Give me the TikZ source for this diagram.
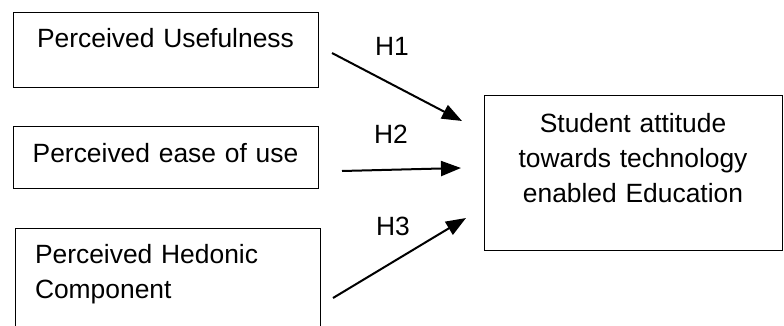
\documentclass[tikz,border=0pt]{standalone}
\usepackage{fontspec}
\setmainfont{Liberation Sans}
\usetikzlibrary{arrows.meta}

\begin{document}
\begin{tikzpicture}
    [x=1pt,y=-1pt,every node/.style={font=\fontsize{26.4}{35}\selectfont,inner sep=0pt},
     construct/.style={draw,line width=1pt,align=center},
     hyp/.style={line width=2pt,-{Triangle[length=20pt,width=15pt]}}]
    \clip (0,0) rectangle (784,326);
    % constructs
    \node[construct,anchor=north,text width=305pt,text height=35pt,text depth=40pt] (1) at (165.5,12) {Perceived Usefulness};
    \node[construct,anchor=north,text width=305pt,text height=36pt,text depth=26pt] (2) at (165.5,126) {Perceived ease of use};
    \node[construct,anchor=north,align=left,text width=265pt,inner xsep=20pt,text height=35pt,text depth=130pt] (3) at (167.5,228) {Perceived Hedonic\\Component};
    \node[construct,anchor=north,text width=298pt,text height=37pt,text depth=118pt] (4) at (633,95) {Student attitude\\towards technology\\enabled Education};
    % arrow ends
    \coordinate (1s) at (332,53);
    \coordinate (1e) at (462,121);
    \coordinate (2s) at (342,171);
    \coordinate (2e) at (461,168);
    \coordinate (3s) at (333,298);
    \coordinate (3e) at (466,218);
    % hypotheses
    \draw[hyp] (1s) -- (1e);
    \draw[hyp] (2s) -- (2e);
    \draw[hyp] (3s) -- (3e);
    \node (h1) at (392,46) {H1};
    \node (h2) at (391,134) {H2};
    \node (h3) at (393,226) {H3};
\end{tikzpicture}
\end{document}
